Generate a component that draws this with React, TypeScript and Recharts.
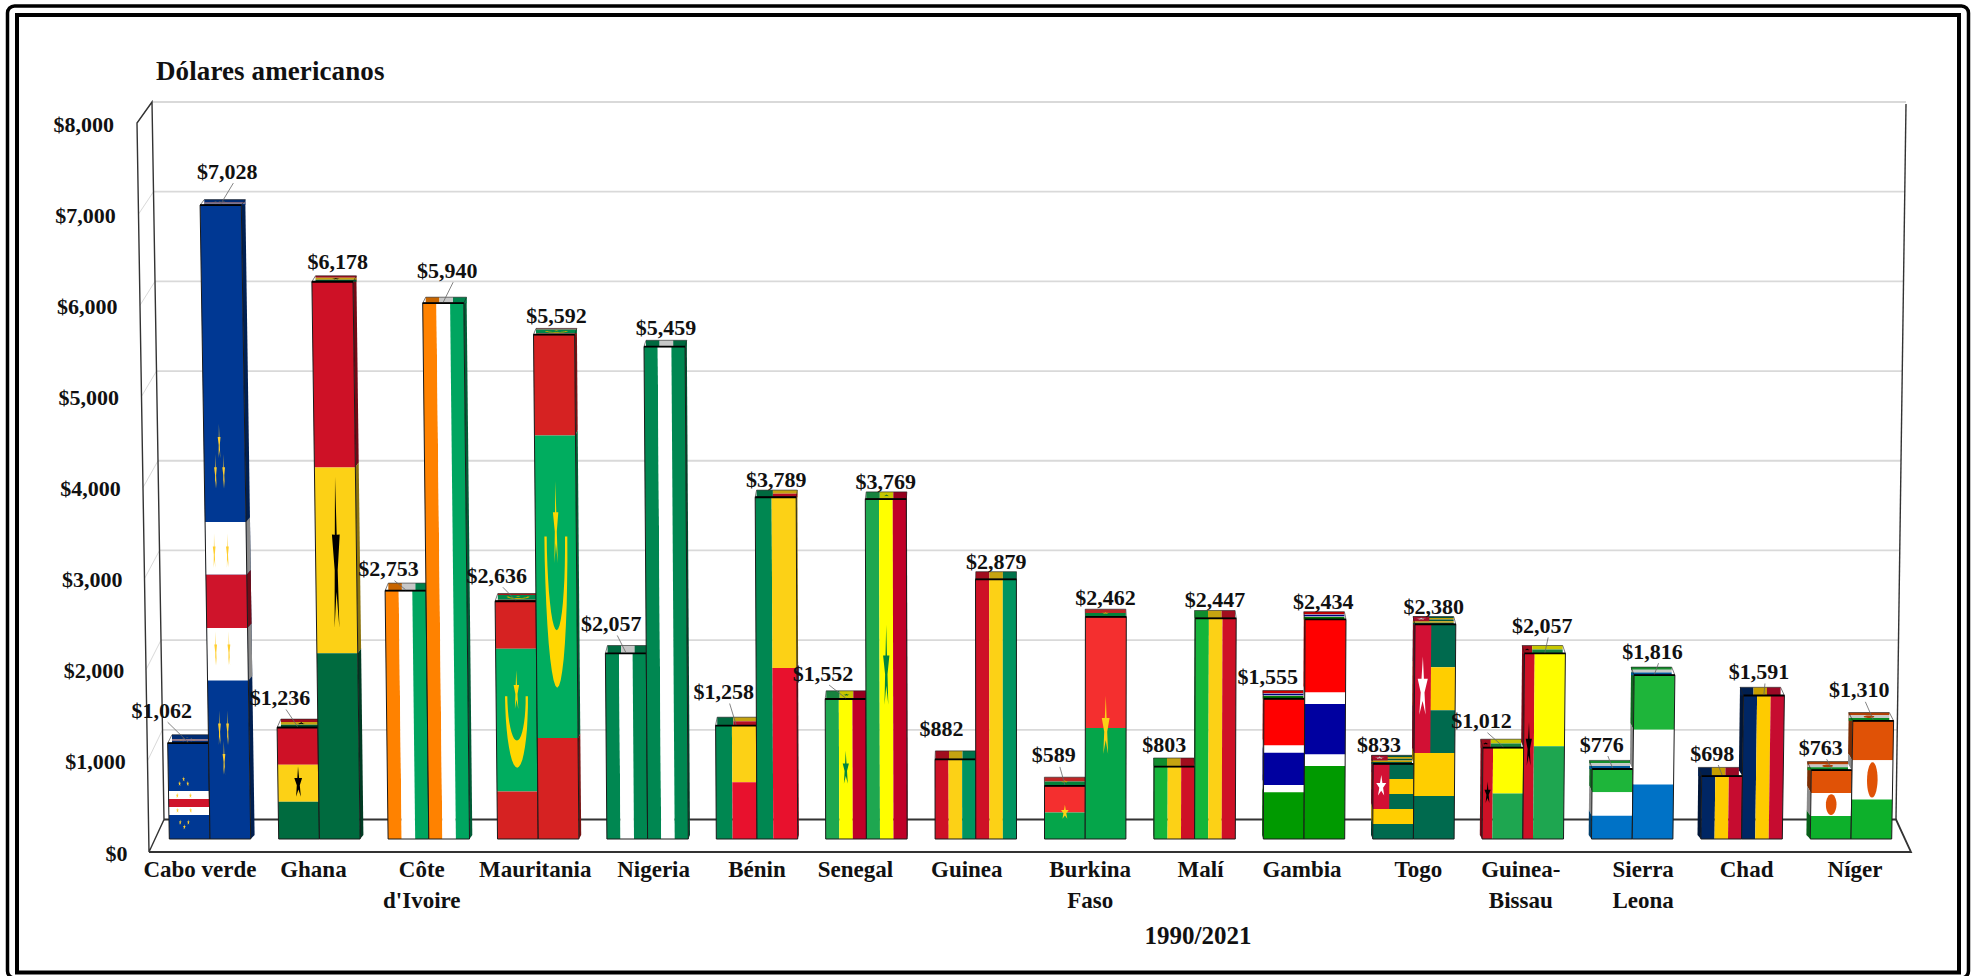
import { Bar, BarChart, CartesianGrid, Customized, LabelList, XAxis, YAxis } from "recharts"

const COUNTRIES = [
  "Cabo verde", "Ghana", "Côte d'Ivoire", "Mauritania", "Nigeria", "Bénin", "Senegal", "Guinea",
  "Burkina Faso", "Malí", "Gambia", "Togo", "Guinea-Bissau", "Sierra Leona", "Chad", "Níger",
]
const VALUES_1990 = [1062, 1236, 2753, 2636, 2057, 1258, 1552, 882, 589, 803, 1555, 833, 1012, 776, 698, 763]
const VALUES_2021 = [7028, 6178, 5940, 5592, 5459, 3789, 3769, 2879, 2462, 2447, 2434, 2380, 2057, 1816, 1591, 1310]
const Y_TICKS = [0, 1000, 2000, 3000, 4000, 5000, 6000, 7000, 8000]

const data = COUNTRIES.map((name, i) => ({ name, y1990: VALUES_1990[i], y2021: VALUES_2021[i] }))

// label nudges, measured from the bar centre and top
const NUDGE_1990 = [[-28, -33], [-19, -30], [-20, -22], [-21, -26], [-16, -30], [-13, -34], [-23, -26], [-14, -31], [-11, -31], [-10, -22], [-16, -22], [-14, -19], [-21, -27], [-10, -25], [-9, -23], [-10, -23]]
const NUDGE_2021 = [[-3, -34], [-2, -20], [-2, -33], [-2, -19], [-2, -19], [-1, -18], [-1, -18], [0, -18], [0, -19], [0, -19], [-1, -18], [0, -18], [-1, -28], [0, -24], [-3, -24], [-12, -31]]
const LEADER_1990 = [1, 1, 1, 1, 1, 1, 1, 0, 1, 0, 0, 0, 1, 1, 1, 1]
const LEADER_2021 = [1, 0, 1, 0, 0, 0, 0, 0, 0, 0, 0, 0, 1, 1, 1, 1]
const TICK_SHIFT = [-10, -6, -7, -3, 6, 0, -11, -9, 5, 6, -2, 5, -2, 11, 5, 4]

const FONT = "'Liberation Serif', serif"
const BASE_Y = 839
const MID_X = 1030
const LEAN = 1.9e-5

type Pt = [number, number]
type Part = { pts: Pt[]; color: string; band?: number[] }

const rect = (u0: number, v0: number, u1: number, v1: number, color: string): Part => ({
  pts: [[u0, v0], [u1, v0], [u1, v1], [u0, v1]],
  color,
  band: [u0, v0, u1, v1],
})

function star(u: number, v: number, ru: number, rv: number, color: string): Part {
  const pts: Pt[] = []
  for (let i = 0; i < 10; i++) {
    const r = i % 2 ? 0.38 : 1
    const a = -Math.PI / 2 + (i * Math.PI) / 5
    pts.push([u + ru * r * Math.cos(a), v + rv * r * Math.sin(a)])
  }
  return { pts, color }
}

function oval(u: number, v: number, ru: number, rv: number, color: string): Part {
  const pts: Pt[] = []
  for (let i = 0; i < 28; i++) {
    const a = (i * Math.PI) / 14
    pts.push([u + ru * Math.cos(a), v + rv * Math.sin(a)])
  }
  return { pts, color }
}

function crescent(u: number, v: number, ru: number, rv: number, color: string): Part {
  const pts: Pt[] = []
  for (let i = 0; i <= 20; i++) {
    const a = (i * Math.PI) / 20
    pts.push([u + ru * Math.cos(a), v + rv * Math.sin(a)])
  }
  for (let i = 20; i >= 0; i--) {
    const a = (i * Math.PI) / 20
    pts.push([u + ru * 0.8 * Math.cos(a), v + rv * 0.62 * Math.sin(a)])
  }
  return { pts, color }
}

const vStripes = (a: string, b: string, c: string) => [rect(0, 0, 1 / 3, 1, a), rect(1 / 3, 0, 2 / 3, 1, b), rect(2 / 3, 0, 1, 1, c)]
const hStripes = (a: string, b: string, c: string) => [rect(0, 0, 1, 1 / 3, a), rect(0, 1 / 3, 1, 2 / 3, b), rect(0, 2 / 3, 1, 1, c)]

const CV_GOLD = "#FFCE2E"
const capeStars = [-90, -54, -18, 18, 54, 90, 126, 162, 198, 234].map((deg) =>
  star(0.375 + 0.17 * Math.cos((deg * Math.PI) / 180), 0.625 + 0.25 * Math.sin((deg * Math.PI) / 180), 0.035, 0.03, CV_GOLD),
)

const FLAGS: Part[][] = [
  [rect(0, 0, 1, 1, "#003893"), rect(0, 0.5, 1, 0.583, "#FFFFFF"), rect(0, 0.583, 1, 0.667, "#CF142B"), rect(0, 0.667, 1, 0.75, "#FFFFFF"), ...capeStars],
  [...hStripes("#CE1126", "#FCD116", "#006B3F"), star(0.5, 0.5, 0.1, 0.15, "#000000")],
  vStripes("#FF8200", "#FFFFFF", "#00A560"),
  [rect(0, 0, 1, 0.2, "#D62222"), rect(0, 0.2, 1, 0.8, "#00AD5F"), rect(0, 0.8, 1, 1, "#D62222"), star(0.5, 0.38, 0.07, 0.09, "#FFD700"), crescent(0.5, 0.4, 0.28, 0.3, "#FFD700")],
  vStripes("#008751", "#FFFFFF", "#008751"),
  [rect(0, 0, 0.4, 1, "#008751"), rect(0.4, 0, 1, 0.5, "#FCD116"), rect(0.4, 0.5, 1, 1, "#E8112D")],
  [...vStripes("#1EA750", "#FFFF00", "#C00028"), star(0.5, 0.5, 0.08, 0.13, "#00853F")],
  vStripes("#CE1126", "#FCD116", "#009460"),
  [rect(0, 0, 1, 0.5, "#F42F2F"), rect(0, 0.5, 1, 1, "#05A54A"), star(0.5, 0.5, 0.1, 0.145, "#FCD116")],
  vStripes("#14B53A", "#FCD116", "#CE1126"),
  [rect(0, 0, 1, 0.333, "#FF0000"), rect(0, 0.333, 1, 0.385, "#FFFFFF"), rect(0, 0.385, 1, 0.615, "#0000A0"), rect(0, 0.615, 1, 0.667, "#FFFFFF"), rect(0, 0.667, 1, 1, "#009A00")],
  [rect(0, 0, 1, 0.2, "#006A4E"), rect(0, 0.2, 1, 0.4, "#FFCE00"), rect(0, 0.4, 1, 0.6, "#006A4E"), rect(0, 0.6, 1, 0.8, "#FFCE00"), rect(0, 0.8, 1, 1, "#006A4E"), rect(0, 0, 0.4, 0.6, "#D21034"), star(0.2, 0.3, 0.13, 0.15, "#FFFFFF")],
  [rect(0, 0, 0.25, 1, "#CE1126"), rect(0.25, 0, 1, 0.5, "#FFFF00"), rect(0.25, 0.5, 1, 1, "#1EA650"), star(0.125, 0.5, 0.08, 0.13, "#000000")],
  hStripes("#1EB53A", "#FFFFFF", "#0072C6"),
  vStripes("#002664", "#FECB00", "#C60C30"),
  [...hStripes("#E05206", "#FFFFFF", "#0DB02B"), oval(0.5, 0.5, 0.13, 0.15, "#E05206")],
]

function shade(hex: string, f: number) {
  const n = parseInt(hex.slice(1), 16)
  const c = [(n >> 16) & 255, (n >> 8) & 255, n & 255].map((v) => Math.round(v * f))
  return `rgb(${c[0]},${c[1]},${c[2]})`
}

const lean = (x: number, y: number) => MID_X + (x - MID_X) * (1 + LEAN * (BASE_Y - y))
const toPath = (pts: Pt[]) => pts.map((p) => `${p[0].toFixed(1)},${p[1].toFixed(1)}`).join(" ")

function FlagBar(props: any) {
  const { x, y, width, height, index, lowerValue, value } = props
  const parts = FLAGS[index]
  const depth = 9 - (3.5 * height) / 634
  const front = (u: number, v: number): Pt => {
    const py = y + v * height
    return [lean(x + u * width, py), py]
  }
  const back = (p: Pt, dy: number): Pt => [p[0] + (MID_X - p[0]) * 0.005, p[1] - dy]

  const sideU = x + width / 2 < MID_X ? 1 : 0
  // a neighbour bar hides the inner wall below its own top
  const sideEnd = lowerValue && sideU === 0 ? 1 - lowerValue / value : 1

  return (
    <g>
      {parts.map((part, i) => {
        const band = part.band
        if (!band || band[0] > sideU || band[2] < sideU || band[1] >= sideEnd) return null
        const v0 = band[1]
        const v1 = Math.min(band[3], sideEnd)
        const a = front(sideU, v0)
        const b = front(sideU, v1)
        const pts = [a, b, back(b, depth - (depth - 4) * v1), back(a, depth - (depth - 4) * v0)]
        return <polygon key={`s${i}`} points={toPath(pts)} fill={shade(part.color, 0.55)} />
      })}
      {parts.map((part, i) => (
        <polygon
          key={`t${i}`}
          points={toPath(part.pts.map(([u, v]) => back(front(u, 0), depth * (1 - v))))}
          fill={shade(part.color, 0.78)}
        />
      ))}
      <polygon
        points={toPath([front(0, 0), front(1, 0), back(front(1, 0), depth), back(front(0, 0), depth)])}
        fill="none"
        stroke="#222"
        strokeWidth={0.6}
      />
      {parts.map((part, i) => (
        <polygon key={`f${i}`} points={toPath(part.pts.map(([u, v]) => front(u, v)))} fill={part.color} />
      ))}
      <polygon points={toPath([front(0, 0), front(1, 0), front(1, 1), front(0, 1)])} fill="none" stroke="#1a1a1a" strokeWidth={1} />
      <line x1={front(0, 0)[0]} y1={y} x2={front(1, 0)[0]} y2={y} stroke="#000" strokeWidth={1.8} />
    </g>
  )
}

const Bar1990 = (props: any) => <FlagBar {...props} value={VALUES_1990[props.index]} />
const Bar2021 = (props: any) => <FlagBar {...props} value={VALUES_2021[props.index]} lowerValue={VALUES_1990[props.index]} />

function valueLabel(nudges: number[][], leaders: number[]) {
  return (props: any) => {
    const { x, y, width, value, index } = props
    const cx = x + width / 2
    const lx = cx + nudges[index][0]
    const ly = y + nudges[index][1]
    return (
      <g>
        {leaders[index] ? <line x1={lx + 6} y1={ly + 12} x2={lean(cx, y)} y2={y - 1} stroke="#666" strokeWidth={0.8} /> : null}
        <text x={lx} y={ly} textAnchor="middle" dominantBaseline="central" fontFamily={FONT} fontWeight={700} fontSize={22} fill="#111">
          {`$${Number(value).toLocaleString("en-US")}`}
        </text>
      </g>
    )
  }
}

function CountryTick(props: any) {
  const { x, payload, index } = props
  const words = String(payload.value)
  const lines = words === "Cabo verde" ? [words] : words.split(/ |(?<=-)/)
  return (
    <text textAnchor="middle" fontFamily={FONT} fontWeight={700} fontSize={23} fill="#111">
      {lines.map((line, i) => (
        <tspan key={line} x={x + TICK_SHIFT[index]} y={877 + i * 30.5}>
          {line}
        </tspan>
      ))}
    </text>
  )
}

// the axis stands on the front edge of the floor
function MoneyTick(props: any) {
  const { y, payload } = props
  const level = (BASE_Y - y) / 721.6
  return (
    <text x={127.5 - 13.5 * level} y={852 - level * 729 + 1} textAnchor="end" dominantBaseline="central" fontFamily={FONT} fontWeight={700} fontSize={22} fill="#111">
      {`$${payload.value.toLocaleString("en-US")}`}
    </text>
  )
}

// gridlines live on the back wall, with a short stub on the side wall
function WallLine(props: any) {
  const { y1 } = props
  const level = (BASE_Y - y1) / 721.6
  const yBack = 819.5 - level * 717.5
  const xLeft = 164 - 12 * level
  const xRight = 1896 + 10 * level
  const yFront = 852 - level * 729
  const xFront = 149 - 12 * level
  if (level < 0.001) return null
  return (
    <g stroke="#D9D9D9" fill="none">
      <line x1={xLeft} y1={yBack} x2={xRight} y2={yBack} strokeWidth={1.8} />
      <line x1={xLeft} y1={yBack} x2={xFront} y2={yFront} strokeWidth={1} />
    </g>
  )
}

function Frame() {
  return (
    <g fill="none">
      <rect x={7.5} y={6} width={1961} height={972} rx={7} stroke="#000" strokeWidth={3.5} />
      <rect x={17} y={15} width={1942} height={957.5} stroke="#000" strokeWidth={4} />
      <g stroke="#333" strokeWidth={1.4}>
        <path d="M149 852 L137 123 L152 102 L164 819.5 Z" />
        <path d="M149 852 H1911 L1896 819.5 H164" strokeWidth={1.8} />
        <path d="M1896 819.5 L1906 104" />
      </g>
      <text x={156} y={80} fontFamily={FONT} fontWeight={700} fontSize={27} letterSpacing={0.1} fill="#111" stroke="none">
        Dólares americanos
      </text>
      <text x={1198} y={944} textAnchor="middle" fontFamily={FONT} fontWeight={700} fontSize={25} fill="#111" stroke="none">
        1990/2021
      </text>
    </g>
  )
}

export default function App() {
  return (
    <div style={{ position: "absolute", left: 0, top: 0, width: 1971, height: 976, background: "#fff" }}>
      <BarChart
        width={1971}
        height={976}
        data={data}
        barSize={40.7}
        barGap={0}
        margin={{ top: 117.4, right: 65.3, bottom: 0, left: 95.3 }}
      >
        <Customized component={Frame} />
        <CartesianGrid vertical={false} horizontal={WallLine} syncWithTicks />
        <XAxis dataKey="name" interval={0} height={137} axisLine={false} tickLine={false} tick={CountryTick} />
        <YAxis width={60} domain={[0, 8000]} ticks={Y_TICKS} axisLine={false} tickLine={false} tick={MoneyTick} />
        <Bar dataKey="y1990" shape={Bar1990} isAnimationActive={false}>
          <LabelList dataKey="y1990" content={valueLabel(NUDGE_1990, LEADER_1990)} />
        </Bar>
        <Bar dataKey="y2021" shape={Bar2021} isAnimationActive={false}>
          <LabelList dataKey="y2021" content={valueLabel(NUDGE_2021, LEADER_2021)} />
        </Bar>
      </BarChart>
    </div>
  )
}
